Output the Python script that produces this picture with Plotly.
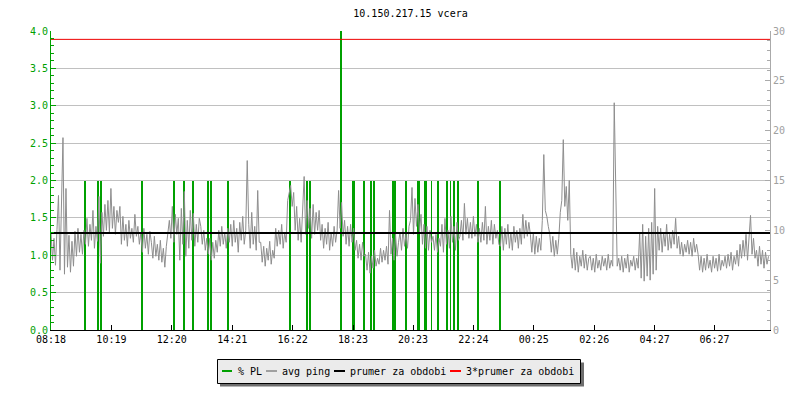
import plotly.graph_objects as go
from datetime import datetime, timedelta

# ---------------- data ----------------
title_text = "10.150.217.15 vcera"
start_time = "08:18"
step_minutes = 3          # spacing of the avg ping samples
span_minutes = 1440       # one day shown

tick_labels = ["08:18", "10:19", "12:20", "14:21", "16:22", "18:23",
               "20:23", "22:24", "00:25", "02:26", "04:27", "06:27"]

# avg ping [ms], one value every 3 minutes starting 08:18 (20 values = 1 hour per row)
ping_ms = [
    9.8, 7.0, 9.2, 6.5, 10.1, 13.5, 6.0, 12.8, 19.3, 5.6, 14.2, 6.3, 9.5, 5.8, 8.9, 6.4, 9.9, 7.4, 10.2, 7.8,
    9.6, 7.6, 10.0, 8.6, 11.2, 8.4, 10.6, 9.0, 12.0, 8.2, 10.4, 8.9, 13.4, 6.7, 11.8, 9.4, 12.6, 10.0, 13.0, 9.8,
    14.2, 10.2, 12.4, 9.6, 12.0, 10.8, 12.4, 8.6, 11.4, 9.0, 10.6, 8.4, 11.0, 9.2, 10.2, 8.8, 11.6, 9.4, 10.4, 8.6,
    9.8, 7.8, 10.2, 8.2, 9.6, 7.6, 9.9, 8.8, 7.2, 9.4, 7.4, 8.6, 7.0, 9.0, 6.8, 8.2, 6.3, 8.4, 9.6, 11.0,
    9.2, 12.4, 8.8, 11.6, 9.6, 11.2, 7.0, 12.2, 8.6, 13.9, 7.4, 11.0, 8.2, 12.0, 9.0, 11.7, 8.4, 10.6, 8.8, 11.2,
    10.4, 8.6, 10.0, 8.0, 9.2, 7.6, 9.2, 7.0, 8.8, 7.2, 9.0, 7.8, 10.0, 8.4, 10.4, 8.6, 9.8, 8.2, 10.2, 8.8,
    10.6, 8.4, 11.0, 8.8, 10.2, 7.8, 10.8, 9.0, 11.4, 8.6, 10.0, 17.0, 10.6, 8.2, 11.8, 8.6, 10.4, 8.0, 14.0, 8.8,
    8.8, 6.8, 8.4, 6.4, 8.2, 7.0, 8.9, 6.6, 8.0, 7.2, 10.2, 8.4, 10.0, 8.6, 10.6, 8.2, 9.8, 8.8, 13.0, 14.0,
    14.5, 12.4, 13.8, 10.0, 12.4, 9.0, 11.2, 8.8, 12.0, 15.4, 9.6, 13.0, 10.2, 12.2, 9.2, 12.6, 9.6, 11.8, 10.0, 12.0,
    9.0, 10.6, 8.2, 10.2, 8.6, 10.8, 8.0, 9.8, 8.4, 10.4, 8.8, 10.0, 14.0, 10.2, 12.8, 9.4, 11.0, 8.6, 10.4, 8.4,
    10.6, 8.8, 10.2, 8.0, 9.0, 7.2, 8.6, 7.0, 8.8, 7.4, 7.6, 6.0, 7.8, 5.7, 7.4, 6.2, 8.0, 6.4, 7.2, 6.6,
    8.2, 6.8, 8.0, 7.0, 8.4, 6.6, 12.0, 7.6, 9.2, 7.0, 9.6, 7.4, 8.8, 9.8, 8.0, 10.2, 8.4, 9.6, 8.2, 10.4,
    11.0, 14.3, 9.6, 13.2, 10.4, 12.6, 9.8, 11.6, 8.6, 10.6, 8.2, 10.4, 8.0, 10.0, 8.8, 9.4, 8.0, 9.6, 7.8, 9.2,
    8.4, 10.6, 7.8, 11.2, 8.6, 10.0, 8.2, 11.4, 8.8, 10.4, 8.0, 10.8, 9.0, 9.4, 11.0, 9.0, 12.7, 9.6, 11.2, 9.2,
    10.8, 9.2, 11.4, 9.4, 10.6, 8.8, 10.2, 8.8, 10.8, 9.0, 12.4, 8.6, 10.4, 9.0, 11.0, 8.6, 10.6, 9.2, 10.0, 8.6,
    8.4, 10.4, 8.0, 10.2, 8.6, 10.6, 8.2, 9.8, 8.0, 10.4, 8.8, 10.0, 8.2, 10.2, 8.6, 11.6, 9.2, 11.0, 9.4, 10.8,
    9.6, 7.8, 9.8, 7.6, 9.4, 7.8, 9.2, 8.0, 11.0, 17.6, 12.0, 11.4, 10.4, 9.6, 7.8, 9.4, 7.4, 9.0, 7.6, 9.2,
    11.8, 13.0, 19.1, 12.4, 14.4, 11.0, 15.0, 7.6, 6.2, 8.2, 6.0, 7.8, 5.8, 7.4, 6.4, 8.0, 6.2, 7.6, 6.0, 7.2,
    7.4, 6.0, 7.2, 5.8, 7.6, 6.2, 7.0, 6.0, 7.4, 6.4, 7.2, 6.0, 7.6, 6.2, 7.0, 6.4, 22.8, 16.0, 6.4, 7.2,
    6.0, 7.4, 5.8, 7.2, 6.2, 7.6, 5.8, 7.0, 6.4, 7.4, 6.0, 7.2, 6.2, 9.8, 5.2, 10.6, 4.9, 9.4, 5.4, 10.2,
    5.0, 10.8, 5.6, 14.2, 6.0, 10.4, 8.0, 10.2, 7.8, 9.8, 8.4, 10.6, 8.0, 9.6, 8.2, 10.0, 8.6, 11.2, 8.2, 9.4,
    7.6, 8.8, 7.4, 8.6, 7.8, 9.0, 7.6, 8.8, 7.4, 9.2, 7.8, 8.6, 7.6, 6.0, 7.4, 5.8, 7.2, 6.0, 7.6, 6.2,
    7.0, 5.8, 7.4, 6.2, 7.2, 5.9, 7.6, 6.0, 7.0, 6.4, 7.4, 6.2, 7.6, 6.4, 7.8, 6.0, 7.4, 6.6, 8.0, 6.4,
    8.6, 7.2, 9.0, 7.4, 9.6, 7.0, 8.8, 11.5, 7.6, 9.2, 7.2, 8.0, 6.4, 8.4, 6.6, 8.0, 6.2, 7.8, 6.6, 7.4,
]

# packet loss [%] (left axis)
pl_times = ["09:26", "09:52", "09:58", "11:20", "12:24", "12:44", "13:02", "13:32", "13:39", "14:12",
            "16:17", "16:51", "16:57", "17:59",
            "18:23", "18:24", "18:25", "18:26", "18:45", "18:59", "19:05",
            "19:43", "19:44", "19:45", "19:46", "19:47", "19:48", "20:09",
            "20:33", "20:34", "20:35", "20:36", "20:47", "20:48", "20:49",
            "21:00", "21:13", "21:31", "21:38", "21:44", "21:45", "21:46",
            "21:52", "21:53", "21:54", "22:34", "23:18"]
pl_values = [2.0, 2.0, 2.0, 2.0, 2.0, 2.0, 2.0, 2.0, 2.0, 2.0,
             2.0, 2.0, 2.0, 4.0,
             2.0, 2.0, 2.0, 2.0, 2.0, 2.0, 2.0,
             2.0, 2.0, 2.0, 2.0, 2.0, 2.0, 2.0,
             2.0, 2.0, 2.0, 2.0, 2.0, 2.0, 2.0,
             2.0, 2.0, 2.0, 2.0, 2.0, 2.0, 2.0,
             2.0, 2.0, 2.0, 2.0, 2.0]

mean_ping = 9.72          # prumer za obdobi [ms]
triple_mean_ping = 29.16  # 3*prumer za obdobi [ms]

legend_labels = ["% PL", "avg ping", "prumer za obdobi", "3*prumer za obdobi"]

# ---------------- styling ----------------
FONT = "DejaVu Sans Mono"
GREEN = "#00a000"
GRAY = "#8e8e8e"
BLACK = "#000000"
RED = "#ee0000"

W, H = 800, 400
ML, MR, MT, MB = 51, 30, 31, 70
PW, PH = W - ML - MR, H - MT - MB

base = datetime(2024, 1, 1, int(start_time[:2]), int(start_time[3:]))


def to_dt(hhmm):
    h, m = map(int, hhmm.split(":"))
    d = base.replace(hour=h, minute=m)
    if d < base:
        d += timedelta(days=1)
    return d


def px(x):
    return (x - ML) / PW


def py(y):
    return (MT + PH - y) / PH


end = base + timedelta(minutes=span_minutes)
ping_x = [base + timedelta(minutes=step_minutes * i) for i in range(len(ping_ms))]
pl_x = [to_dt(t) for t in pl_times]
tick_vals = [to_dt(t) for t in tick_labels]

fig = go.Figure()

fig.add_trace(go.Bar(
    x=pl_x, y=pl_values, width=[100000] * len(pl_x),
    marker=dict(color=GREEN, line=dict(width=0)),
    name=legend_labels[0], yaxis="y",
))
fig.add_trace(go.Scatter(
    x=ping_x, y=ping_ms, mode="lines", line=dict(color=GRAY, width=1),
    name=legend_labels[1], yaxis="y2",
))
fig.add_trace(go.Scatter(
    x=[base, end], y=[mean_ping, mean_ping], mode="lines",
    line=dict(color=BLACK, width=2), name=legend_labels[2], yaxis="y2",
))
fig.add_trace(go.Scatter(
    x=[base, end], y=[triple_mean_ping, triple_mean_ping], mode="lines",
    line=dict(color=RED, width=1), name=legend_labels[3], yaxis="y2",
))

# custom legend box (with shadow)
shapes = [
    dict(type="rect", xref="paper", yref="paper", x0=px(220), x1=px(584), y0=py(386.5), y1=py(362.5),
         fillcolor="#6e6e6e", line=dict(width=0), layer="above"),
    dict(type="rect", xref="paper", yref="paper", x0=px(217.5), x1=px(580.5), y0=py(383.5), y1=py(359.5),
         fillcolor="#ebebeb", line=dict(color=BLACK, width=1), layer="above"),
]
annotations = []
legend_colors = [GREEN, "#a0a0a0", BLACK, "#ff0000"]
sym_x = [(222, 232), (266, 277), (334, 345), (450, 461)]
text_x = [235.5, 279.5, 347.5, 463.5]
for lab, col, (a, b), tx in zip(legend_labels, legend_colors, sym_x, text_x):
    shapes.append(dict(type="line", xref="paper", yref="paper", x0=px(a), x1=px(b), y0=py(371), y1=py(371),
                       line=dict(color=col, width=2), layer="above"))
    annotations.append(dict(text=lab, xref="paper", yref="paper", x=px(tx), y=py(371.5),
                            xanchor="left", yanchor="middle", showarrow=False,
                            font=dict(family=FONT, size=10, color=BLACK)))

fig.update_layout(
    width=W, height=H,
    margin=dict(l=ML, r=MR, t=MT, b=MB),
    paper_bgcolor="white", plot_bgcolor="white",
    showlegend=False,
    font=dict(family=FONT, size=10, color=BLACK),
    title=dict(text=title_text, x=0.5, xref="paper", xanchor="center",
               y=1 - 13 / H, yref="container", yanchor="middle",
               font=dict(family=FONT, size=10, color=BLACK)),
    xaxis=dict(type="date", range=[base, end], tickmode="array", tickvals=tick_vals, ticktext=tick_labels,
               ticks="inside", ticklen=5, tickwidth=1, tickcolor=BLACK,
               showline=True, linecolor=BLACK, linewidth=1, showgrid=False, zeroline=False,
               tickfont=dict(family=FONT, size=10, color=BLACK)),
    yaxis=dict(range=[0, 4], dtick=0.5, tick0=0, tickformat=".1f",
               ticks="inside", ticklen=5, tickwidth=1, tickcolor=GREEN,
               showline=True, linecolor=GREEN, linewidth=1,
               showgrid=True, gridcolor="#c0c0c0", gridwidth=1, zeroline=False,
               tickfont=dict(family=FONT, size=10, color=GREEN),
               minor=dict(ticks="inside", ticklen=3, dtick=0.1, tick0=0, tickcolor=GREEN, showgrid=False)),
    yaxis2=dict(range=[0, 30], dtick=5, tick0=0, overlaying="y", side="right",
                ticks="inside", ticklen=5, tickwidth=1, tickcolor="#aaaaaa",
                showline=True, linecolor="#aaaaaa", linewidth=1, showgrid=False, zeroline=False,
                tickfont=dict(family=FONT, size=10, color="#a0a0a0"),
                minor=dict(ticks="inside", ticklen=3, dtick=1, tick0=0, tickcolor="#aaaaaa", showgrid=False)),
    shapes=shapes,
    annotations=annotations,
    bargap=0,
)

fig.write_html("out.html", config={"displayModeBar": False},
               post_script="document.body.style.margin='0';")
